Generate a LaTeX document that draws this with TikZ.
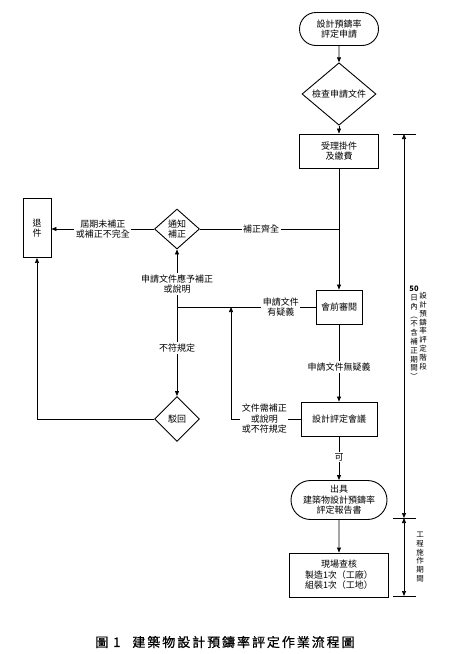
\documentclass[tikz,border=0pt]{standalone}
\usepackage{fontspec}
\setmainfont{Noto Sans CJK TC}
\newfontfamily\capfont[LetterSpace=15,FakeBold=0.6]{Noto Sans CJK TC}
\usetikzlibrary{arrows.meta,shapes.geometric,shapes.misc}
\begin{document}
\begin{tikzpicture}[x=1pt,y=-1pt,
  every node/.style={font=\fontsize{9}{10.5}\selectfont, align=center, inner sep=1pt},
  boxn/.style={draw, line width=0.9pt, rectangle, inner sep=0pt},
  termn/.style={draw, line width=0.9pt, rounded rectangle, inner sep=0pt},
  decn/.style={draw, line width=0.9pt, diamond, inner sep=0pt},
  conn/.style={line width=0.7pt},
  arr/.style={conn, -{Triangle[length=5pt,width=4pt]}},
  dimarr/.style={conn, {Triangle[length=5pt,width=4pt]}-{Triangle[length=5pt,width=4pt]}},
  lab/.style={fill=white, inner sep=1.5pt},
  vtext/.style={font=\fontsize{7.5}{8.8}\selectfont, inner sep=0pt}]
\useasboundingbox (0,0) rectangle (455,654);

% nodes
\node[termn, minimum width=79pt, minimum height=33pt] (start) at (339,29) {設計預鑄率\\評定申請};
\node[decn, minimum width=74pt, minimum height=55pt] (check) at (339,94) {檢查申請文件};
\node[boxn, minimum width=79pt, minimum height=34pt] (accept) at (339,151) {受理掛件\\及繳費};
\node[decn, minimum width=45pt, minimum height=40pt] (notify) at (177,229) {通知\\補正};
\node[boxn, minimum width=28pt, minimum height=59pt] (ret) at (37,228) {退\\件};
\node[boxn, minimum width=46pt, minimum height=34pt] (pre) at (339,307) {會前審閱};
\node[boxn, minimum width=76pt, minimum height=34pt] (meet) at (339,419) {設計評定會議};
\node[decn, minimum width=45pt, minimum height=45pt] (deny) at (177,419) {駁回};
\node[termn, minimum width=96pt, minimum height=39pt] (report) at (339,500) {出具\\建築物設計預鑄率\\評定報告書};
\node[boxn, minimum width=99pt, minimum height=44pt] (site) at (339,575) {現場查核\\製造1次（工廠）\\組裝1次（工地）};

% helper coordinates
\coordinate (j1) at (177,307);
\coordinate (jm) at (339,229);
\coordinate (c1) at (37,419);
\coordinate (c2) at (231,419);
\coordinate (c3) at (231,307);

% connectors
\draw[arr] (start) -- (check);
\draw[arr] (check) -- (accept);
\draw[arr] (accept) -- (pre);
\draw[arr] (notify.west) -- node[lab] {屆期未補正\\或補正不完全} (ret.east |- notify.west);
\draw[conn] (notify.east) -- node[lab, pos=0.44] {補正齊全} (jm);
\draw[conn] (pre.west) -- node[lab, pos=0.25] {申請文件\\有疑義} (j1);
\draw[arr] (j1) -- node[lab, pos=0.4] {申請文件應予補正\\或說明} (notify.south);
\draw[arr] (j1) -- node[lab, pos=0.46] {不符規定} (deny.north);
\draw[arr] (deny.west) -- (c1) -- (ret.south);
\draw[arr] (meet.west) -- node[lab, pos=0.52] {文件需補正\\或說明\\或不符規定} (c2) -- (c3);
\draw[arr] (pre) -- node[lab, pos=0.55] {申請文件無疑義} (meet);
\draw[arr] (meet) -- node[lab, pos=0.47] {可} (report);
\draw[arr] (report) -- (site);

% dimension lines
\coordinate (d1) at (404,134);
\coordinate (d2) at (404,518);
\coordinate (d3) at (404,596);
\draw[conn] (393,134) -- (416,134);
\draw[conn] (393,518) -- (416,518);
\draw[conn] (393,596) -- (416,596);
\draw[dimarr] (d1) -- (d2);
\draw[dimarr] (d2) -- (d3);
\node[vtext] (v1) at (414,333) {\textbf{50}\\日\\內\\︵\\不\\含\\補\\正\\期\\間\\︶};
\node[vtext] (v2) at (423,331) {設\\計\\預\\鑄\\率\\評\\定\\階\\段};
\node[vtext] (v3) at (420,557) {工\\程\\施\\作\\期\\間};

% caption
\node[font=\capfont\fontsize{13}{15}\selectfont] (cap) at (225,642) {圖 1\hspace{12pt}建築物設計預鑄率評定作業流程圖};
\end{tikzpicture}
\end{document}
